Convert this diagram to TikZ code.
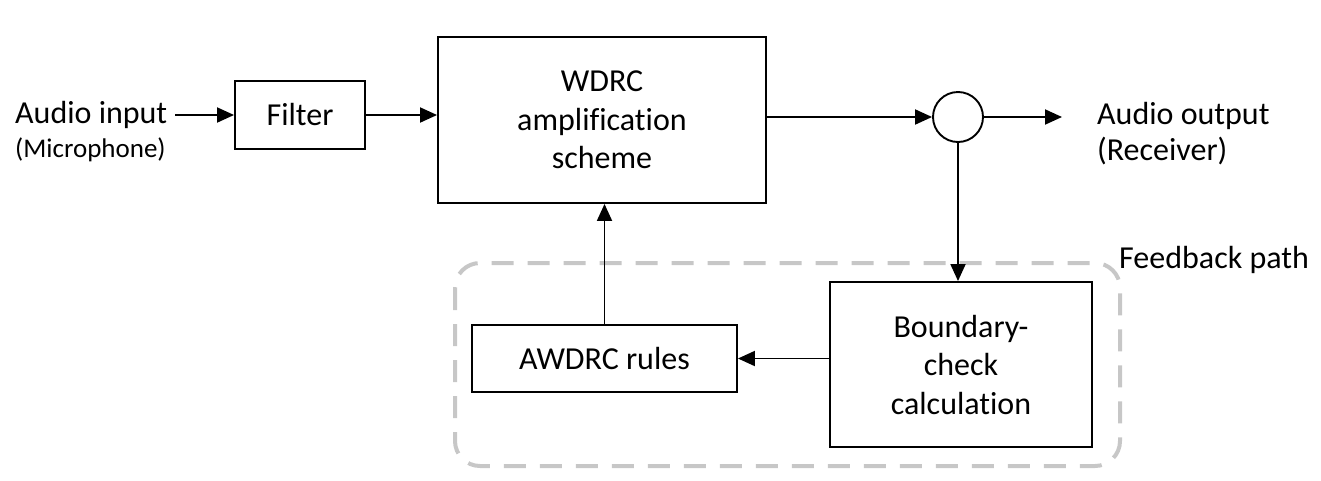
\documentclass[tikz,border=0pt]{standalone}
\usepackage{fontspec}
\setmainfont{Carlito}[Ligatures=NoCommon]
\usetikzlibrary{arrows.meta}
\tikzset{
  blk/.style={draw=black, line width=1.9pt, inner sep=0pt, align=center,
    font=\fontsize{32}{38.5}\selectfont},
  lbl/.style={inner sep=0pt, anchor=base west, font=\fontsize{32}{38}\selectfont},
  conn/.style={line width=1.9pt, -{Triangle[length=17pt,width=15pt]}},
  fbbox/.style={draw=black!22, line width=4pt, dash pattern=on 22pt off 14pt, rounded corners=25pt}
}
\begin{document}
\begin{tikzpicture}[x=1pt,y=-1pt]
\useasboundingbox (0,0) rectangle (1321,480);
% feedback path region
\draw[fbbox] (455,263) rectangle (1120,466);
% blocks
\node[blk, minimum width=130pt, minimum height=68pt] (filter) at (300,115) {Filter};
\node[blk, minimum width=328pt, minimum height=166pt] (wdrc) at (602,120) {WDRC\\amplification\\scheme};
\node[draw=black, line width=1.9pt, circle, minimum size=50pt, inner sep=0pt] (sum) at (958,117) {};
\node[blk, minimum width=265pt, minimum height=67pt] (awdrc) at (604.5,358.5) {AWDRC rules};
\node[blk, minimum width=262pt, minimum height=165pt] (bound) at (961,364.5) {Boundary-\\check\\calculation};
% labels
\node[lbl] (ain) at (15,123) {Audio input};
\node[lbl, font=\fontsize{27}{31}\selectfont] (mic) at (15,157) {(Microphone)};
\node[lbl] (aout) at (1097,124) {Audio output};
\node[lbl] (rec) at (1097,160) {(Receiver)};
\node[lbl] (fb) at (1119,268) {Feedback path};
\coordinate (instart) at (175,115);
\coordinate (outend) at (1062,117);
% connectors
\draw[conn] (instart) -- (filter.west);
\draw[conn] (filter.east) -- (filter.east -| wdrc.west);
\draw[conn] (wdrc.east |- sum) -- (sum.west);
\draw[conn] (sum.east) -- (outend);
\draw[conn] (sum.south) -- (sum.south |- bound.north);
\draw[conn] (bound.west |- awdrc) -- (awdrc.east);
\draw[conn] (awdrc.north) -- (awdrc.north |- wdrc.south);
\end{tikzpicture}
\end{document}
